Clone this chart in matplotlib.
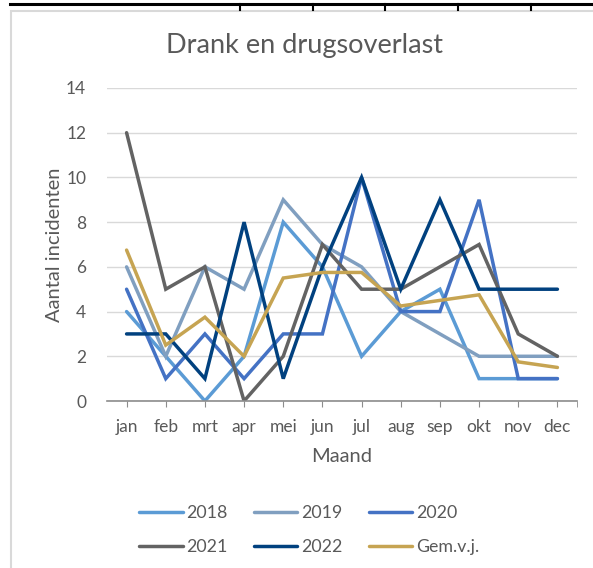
import matplotlib
matplotlib.use("Agg")
import matplotlib.pyplot as plt
from matplotlib.lines import Line2D
from matplotlib.patches import Rectangle

months = ["jan", "feb", "mrt", "apr", "mei", "jun", "jul", "aug", "sep", "okt", "nov", "dec"]
y2018 = [4, 2, 0, 2, 8, 6, 2, 4, 5, 1, 1, 1]
y2019 = [6, 2, 6, 5, 9, 7, 6, 4, 3, 2, 2, 2]
y2020 = [5, 1, 3, 1, 3, 3, 10, 4, 4, 9, 1, 1]
y2021 = [12, 5, 6, 0, 2, 7, 5, 5, 6, 7, 3, 2]
y2022 = [3, 3, 1, 8, 1, 6, 10, 5, 9, 5, 5, 5]
gem = [6.75, 2.5, 3.75, 2.0, 5.5, 5.75, 5.75, 4.25, 4.5, 4.75, 1.75, 1.5]

series = [
    ("2018", y2018, "#5B9BD5"),
    ("2019", y2019, "#809FC0"),
    ("2020", y2020, "#4472C4"),
    ("2021", y2021, "#636363"),
    ("2022", y2022, "#01417F"),
    ("Gem.v.j.", gem, "#C6A452"),
]

plt.rcParams["font.family"] = ["Lato", "DejaVu Sans"]
txt = "#595959"

W, H = 593, 568
fig = plt.figure(figsize=(W / 100, H / 100), dpi=100)

# frame of the chart object and the table edge above it
fig.patches.append(Rectangle((11 / W, -0.1), 1.2, (H - 11) / H + 0.1, transform=fig.transFigure,
                             facecolor="white", edgecolor="#D9D9D9", linewidth=1.5, zorder=-1))
fig.add_artist(Line2D([10 / W, 1], [1 - 4 / H, 1 - 4 / H], color="black", linewidth=2.2))
for xt in [240, 313, 385, 458, 531]:
    fig.add_artist(Line2D([xt / W, xt / W], [1 - 4 / H, 1 - 10 / H], color="black", linewidth=1.5))

ax = fig.add_axes([107 / W, 1 - 401 / H, (577 - 107) / W, (401 - 88) / H])
x = list(range(len(months)))
lines = []
for name, vals, col in series:
    ln, = ax.plot(x, vals, color=col, linewidth=2.5, label=name, solid_capstyle="round", solid_joinstyle="miter")
    lines.append(ln)

ax.set_xlim(-0.5, 11.5)
ax.set_ylim(0, 14)
ax.set_yticks(range(0, 15, 2))
ax.set_xticks(x)
ax.set_xticklabels(months)
ax.set_xticks([11.5], minor=True)
ax.grid(axis="y", color="#D9D9D9", linewidth=1)
ax.set_axisbelow(True)
for s in ["top", "right", "left"]:
    ax.spines[s].set_visible(False)
ax.spines["bottom"].set_color("#8C8C8C")
ax.spines["bottom"].set_linewidth(1.2)
ax.tick_params(axis="x", which="both", direction="out", length=4, color="#8C8C8C", labelcolor=txt,
               labelsize=12.5, pad=9)
ax.tick_params(axis="y", length=0, labelcolor=txt, labelsize=12.5, pad=15)

fig.text(305 / W, 1 - 46 / H, "Drank en drugsoverlast", fontsize=19.5, color=txt, ha="center", va="center")
ax.set_xlabel("Maand", fontsize=14.5, color=txt, labelpad=9)
ax.set_ylabel("Aantal incidenten", fontsize=14.5, color=txt, labelpad=2)

order = [0, 3, 1, 4, 2, 5]
fig.legend([lines[i] for i in order], [series[i][0] for i in order],
           loc="center", bbox_to_anchor=(309 / W, 1 - 530 / H), ncol=3, frameon=False,
           fontsize=12.8, handlelength=2.45, handletextpad=0.2, columnspacing=1.48,
           labelcolor=txt, labelspacing=1.02)

fig.savefig("out.png", dpi=100)
